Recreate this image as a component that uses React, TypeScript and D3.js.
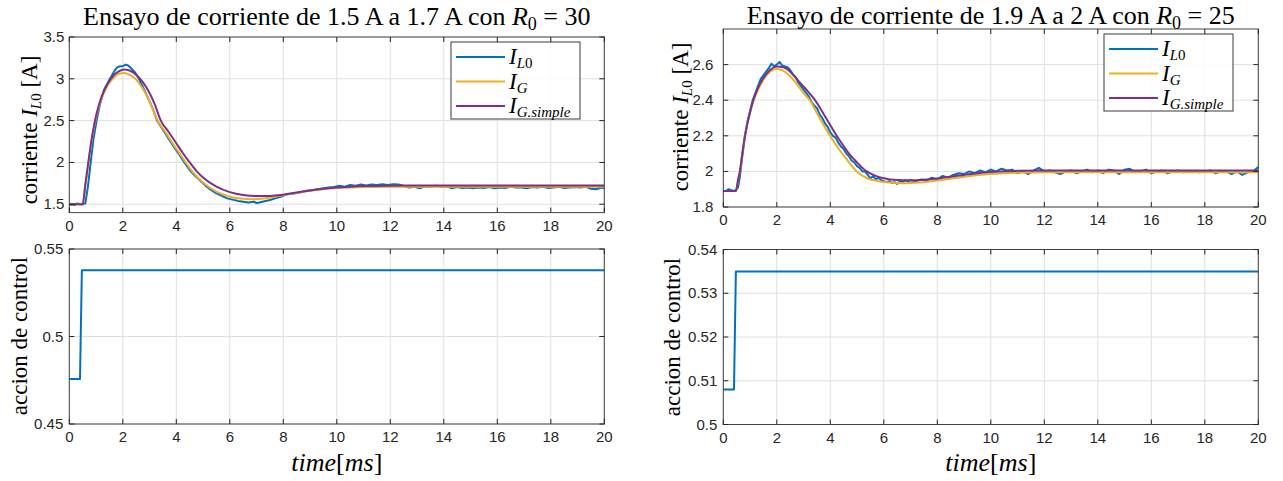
import React from "react";
import * as d3 from "d3";

type Pt = [number, number];

const X_TICKS = [0, 2, 4, 6, 8, 10, 12, 14, 16, 18, 20];
const Y_TICKS_TL = [1.5, 2, 2.5, 3, 3.5];
const Y_TICKS_TR = [1.8, 2, 2.2, 2.4, 2.6];
const Y_TICKS_BL = [0.45, 0.5, 0.55];
const Y_TICKS_BR = [0.5, 0.51, 0.52, 0.53, 0.54];

const TITLE_LEFT = "Ensayo de corriente de 1.5 A a 1.7 A con ";
const TITLE_LEFT_R = "30";
const TITLE_RIGHT = "Ensayo de corriente de 1.9 A a 2 A con ";
const TITLE_RIGHT_R = "25";

// ---- left test: 1.5 A -> 1.7 A ----
const IL0_LEFT: Pt[] = [
  [0, 1.49], [0.1, 1.5], [0.2, 1.49], [0.3, 1.51], [0.4, 1.5], [0.5, 1.5], [0.6, 1.51],
  [0.7, 1.72], [0.8, 2.0], [0.9, 2.27], [1.02, 2.5], [1.15, 2.7], [1.3, 2.87], [1.52, 3.0],
  [1.7, 3.1], [1.8, 3.14], [1.9, 3.15], [2.0, 3.15], [2.1, 3.17], [2.2, 3.16], [2.3, 3.13],
  [2.45, 3.08], [2.6, 3.0], [2.8, 2.87], [3.0, 2.73], [3.15, 2.62], [3.28, 2.5], [3.5, 2.39],
  [3.7, 2.29], [3.9, 2.19], [4.1, 2.1], [4.3, 2.0], [4.5, 1.91], [4.7, 1.84], [4.9, 1.78],
  [5.1, 1.72], [5.3, 1.67], [5.5, 1.63], [5.7, 1.6], [5.9, 1.57], [6.1, 1.555], [6.3, 1.54],
  [6.5, 1.53], [6.7, 1.52], [6.9, 1.53], [7.0, 1.515], [7.1, 1.52], [7.3, 1.535], [7.5, 1.55],
  [7.7, 1.57], [7.9, 1.59], [8.1, 1.615], [8.3, 1.625], [8.5, 1.635], [8.7, 1.65], [8.9, 1.66],
  [9.1, 1.67], [9.3, 1.68], [9.5, 1.69], [9.7, 1.7], [9.9, 1.705], [10.1, 1.72], [10.3, 1.71],
  [10.5, 1.73], [10.7, 1.72], [10.9, 1.735], [11.1, 1.725], [11.3, 1.735], [11.5, 1.73],
  [11.7, 1.74], [11.9, 1.73], [12.1, 1.74], [12.3, 1.735], [12.5, 1.72], [12.7, 1.7],
  [12.9, 1.71], [13.1, 1.69], [13.3, 1.715], [13.5, 1.71], [13.7, 1.72], [13.9, 1.71],
  [14.1, 1.715], [14.3, 1.69], [14.5, 1.705], [14.7, 1.695], [14.9, 1.7], [15.1, 1.69],
  [15.3, 1.7], [15.5, 1.695], [15.7, 1.705], [15.9, 1.69], [16.1, 1.7], [16.3, 1.695],
  [16.5, 1.71], [16.7, 1.7], [16.9, 1.7], [17.1, 1.69], [17.3, 1.705], [17.5, 1.7],
  [17.7, 1.71], [17.9, 1.695], [18.1, 1.7], [18.3, 1.71], [18.5, 1.695], [18.7, 1.7],
  [18.9, 1.705], [19.1, 1.7], [19.3, 1.71], [19.5, 1.685], [19.7, 1.68], [19.9, 1.7], [20, 1.69],
];
const IG_LEFT: Pt[] = [
  [0, 1.5], [0.5, 1.5], [0.6, 1.72], [0.71, 1.98], [0.83, 2.25], [0.96, 2.48], [1.1, 2.66],
  [1.25, 2.8], [1.45, 2.93], [1.65, 3.01], [1.85, 3.06], [2.05, 3.07], [2.25, 3.05],
  [2.5, 2.99], [2.75, 2.88], [3.0, 2.73], [3.3, 2.5], [3.6, 2.36], [3.9, 2.21], [4.1, 2.12],
  [4.35, 2.0], [4.6, 1.89], [5.0, 1.76], [5.5, 1.65], [6.0, 1.59], [6.5, 1.565], [6.8, 1.56],
  [7.2, 1.565], [7.6, 1.585], [8.0, 1.61], [8.5, 1.635], [9.0, 1.66], [9.5, 1.68],
  [10, 1.695], [11, 1.705], [12, 1.71], [14, 1.71], [17, 1.71], [20, 1.71],
];
const IGS_LEFT: Pt[] = [
  [0, 1.5], [0.5, 1.5], [0.6, 1.74], [0.71, 2.0], [0.83, 2.27], [0.96, 2.5], [1.1, 2.68],
  [1.25, 2.82], [1.45, 2.95], [1.65, 3.04], [1.85, 3.09], [2.05, 3.11], [2.25, 3.1],
  [2.5, 3.05], [2.75, 2.96], [3.0, 2.83], [3.2, 2.69], [3.42, 2.5], [3.7, 2.37], [4.0, 2.23],
  [4.25, 2.11], [4.5, 2.0], [4.75, 1.9], [5.0, 1.82], [5.5, 1.71], [6.0, 1.645], [6.5, 1.61],
  [7.0, 1.598], [7.5, 1.6], [8.0, 1.615], [8.5, 1.64], [9.0, 1.665], [9.5, 1.685],
  [10, 1.7], [10.5, 1.71], [11, 1.717], [12, 1.722], [13, 1.724], [16, 1.724], [20, 1.724],
];
const U_LEFT: Pt[] = [[0, 0.4757], [0.4, 0.4757], [0.47, 0.5379], [20, 0.5379]];

// ---- right test: 1.9 A -> 2 A ----
const IL0_RIGHT: Pt[] = [
  [0, 1.89], [0.1, 1.89], [0.2, 1.9], [0.3, 1.895], [0.4, 1.89], [0.5, 1.9], [0.55, 1.91],
  [0.62, 1.97], [0.7, 2.07], [0.8, 2.19], [0.9, 2.28], [1.0, 2.34], [1.1, 2.4], [1.2, 2.44],
  [1.3, 2.48], [1.4, 2.52], [1.5, 2.54], [1.6, 2.56], [1.7, 2.58], [1.8, 2.605], [1.9, 2.59],
  [2.0, 2.6], [2.1, 2.615], [2.2, 2.595], [2.3, 2.59], [2.4, 2.585], [2.5, 2.57], [2.6, 2.545],
  [2.7, 2.53], [2.8, 2.5], [2.9, 2.48], [3.0, 2.46], [3.1, 2.44], [3.2, 2.42], [3.3, 2.39],
  [3.4, 2.37], [3.5, 2.355], [3.6, 2.32], [3.7, 2.3], [3.8, 2.27], [3.9, 2.25], [4.0, 2.22],
  [4.1, 2.2], [4.2, 2.19], [4.3, 2.16], [4.4, 2.14], [4.5, 2.125], [4.6, 2.1], [4.7, 2.085],
  [4.8, 2.06], [4.9, 2.05], [5.0, 2.03], [5.1, 2.02], [5.2, 2.0], [5.3, 2.0], [5.4, 1.98],
  [5.5, 1.96], [5.6, 1.975], [5.7, 1.955], [5.8, 1.965], [5.9, 1.95], [6.0, 1.945], [6.1, 1.94],
  [6.2, 1.945], [6.3, 1.935], [6.4, 1.94], [6.5, 1.93], [6.6, 1.945], [6.7, 1.94], [6.8, 1.95],
  [6.9, 1.945], [7.0, 1.95], [7.2, 1.945], [7.4, 1.955], [7.6, 1.95], [7.8, 1.965], [8.0, 1.955],
  [8.2, 1.975], [8.4, 1.965], [8.6, 1.98], [8.8, 1.99], [9.0, 1.985], [9.2, 2.0], [9.4, 1.99],
  [9.6, 2.005], [9.8, 1.995], [10.0, 2.01], [10.2, 2.0], [10.4, 2.015], [10.6, 2.005],
  [10.8, 2.01], [11.0, 1.99], [11.2, 2.0], [11.4, 1.985], [11.6, 2.005], [11.8, 2.02],
  [12.0, 2.0], [12.2, 2.005], [12.4, 1.995], [12.6, 1.985], [12.8, 2.0], [13.0, 2.005],
  [13.2, 1.99], [13.4, 2.0], [13.6, 2.01], [13.8, 1.995], [14.0, 2.005], [14.2, 1.99],
  [14.4, 2.01], [14.6, 2.005], [14.8, 1.985], [15.0, 2.01], [15.2, 2.015], [15.4, 1.995],
  [15.6, 2.0], [15.8, 2.01], [16.0, 1.99], [16.2, 2.0], [16.4, 2.005], [16.6, 1.99], [16.8, 2.0],
  [17.0, 2.005], [17.2, 1.995], [17.4, 2.0], [17.6, 2.0], [17.8, 1.995], [18.0, 2.0],
  [18.2, 2.005], [18.4, 1.99], [18.6, 2.0], [18.8, 2.0], [19.0, 1.985], [19.2, 2.0],
  [19.4, 1.98], [19.6, 1.995], [19.8, 2.0], [20, 2.025],
];
const IG_RIGHT: Pt[] = [
  [0, 1.89], [0.47, 1.89], [0.55, 1.95], [0.62, 2.0], [0.71, 2.1], [0.81, 2.2], [0.95, 2.3],
  [1.12, 2.39], [1.3, 2.46], [1.5, 2.515], [1.75, 2.56], [2.0, 2.575], [2.25, 2.565],
  [2.5, 2.535], [2.8, 2.48], [3.0, 2.44], [3.23, 2.4], [3.6, 2.3], [3.99, 2.2], [4.3, 2.13],
  [4.6, 2.07], [4.99, 2.0], [5.4, 1.96], [5.8, 1.945], [6.2, 1.937], [6.8, 1.933],
  [7.3, 1.937], [7.8, 1.945], [8.3, 1.955], [8.8, 1.965], [9.3, 1.975], [10, 1.985],
  [11, 1.993], [12, 1.995], [16, 1.995], [20, 1.995],
];
const IGS_RIGHT: Pt[] = [
  [0, 1.89], [0.47, 1.89], [0.55, 1.95], [0.62, 2.0], [0.71, 2.1], [0.81, 2.2], [0.95, 2.3],
  [1.12, 2.4], [1.3, 2.47], [1.5, 2.525], [1.75, 2.57], [2.0, 2.59], [2.25, 2.585],
  [2.5, 2.56], [2.8, 2.51], [3.1, 2.46], [3.43, 2.4], [3.8, 2.31], [4.24, 2.2], [4.7, 2.1],
  [5.0, 2.05], [5.36, 2.0], [5.7, 1.975], [6.0, 1.962], [6.5, 1.952], [7.0, 1.95],
  [7.5, 1.953], [8.0, 1.96], [8.5, 1.97], [9.0, 1.98], [9.5, 1.99], [10, 1.997],
  [11, 2.003], [12, 2.005], [16, 2.005], [20, 2.005],
];
const U_RIGHT: Pt[] = [[0, 0.508], [0.4, 0.508], [0.47, 0.535], [20, 0.535]];

const BLUE = "#0072BD";
const YELLOW = "#EDB120";
const PURPLE = "#7E2F8E";
const AXIS = "#262626";
const GRID = "#dfdfdf";
const SERIF = "'Liberation Serif', 'Times New Roman', serif";
const SANS = "'Liberation Sans', Arial, Helvetica, sans-serif";

type Series = { data: Pt[]; color: string; width: number; curve: d3.CurveFactory };

type PanelProps = {
  id: string;
  left: number;
  top: number;
  width: number;
  height: number;
  yDomain: [number, number];
  yTicks: number[];
  yLabelGap: number;
  series: Series[];
};

function Panel({ id, left, top, width, height, yDomain, yTicks, yLabelGap, series }: PanelProps) {
  const x = d3.scaleLinear().domain([0, 20]).range([left, left + width]);
  const y = d3.scaleLinear().domain(yDomain).range([top + height, top]);
  const tl = 5;
  const fmt = (v: number) => String(+v.toFixed(3));
  return (
    <g>
      <clipPath id={id}>
        <rect x={left} y={top} width={width} height={height} />
      </clipPath>
      <rect x={left} y={top} width={width} height={height} fill="#fff" />
      {X_TICKS.map((t) => (
        <line key={"gx" + t} x1={x(t)} x2={x(t)} y1={top} y2={top + height} stroke={GRID} strokeWidth={1} />
      ))}
      {yTicks.map((t) => (
        <line key={"gy" + t} x1={left} x2={left + width} y1={y(t)} y2={y(t)} stroke={GRID} strokeWidth={1} />
      ))}
      <g clipPath={`url(#${id})`}>
        {series.map((s, i) => {
          const line = d3
            .line<Pt>()
            .x((d) => x(d[0]))
            .y((d) => y(d[1]))
            .curve(s.curve);
          return (
            <path key={i} d={line(s.data) || ""} fill="none" stroke={s.color} strokeWidth={s.width} strokeLinejoin="round" />
          );
        })}
      </g>
      <rect x={left} y={top} width={width} height={height} fill="none" stroke={AXIS} strokeWidth={1} opacity={0.85} />
      {X_TICKS.map((t) => (
        <g key={"tx" + t}>
          <line x1={x(t)} x2={x(t)} y1={top + height} y2={top + height - tl} stroke={AXIS} />
          <line x1={x(t)} x2={x(t)} y1={top} y2={top + tl} stroke={AXIS} />
          <text x={x(t)} y={top + height + 18} textAnchor="middle" fontFamily={SANS} fontSize={15} fill={AXIS}>
            {t}
          </text>
        </g>
      ))}
      {yTicks.map((t) => (
        <g key={"ty" + t}>
          <line x1={left} x2={left + tl} y1={y(t)} y2={y(t)} stroke={AXIS} />
          <line x1={left + width} x2={left + width - tl} y1={y(t)} y2={y(t)} stroke={AXIS} />
          <text x={left - yLabelGap} y={y(t) + 5} textAnchor="end" fontFamily={SANS} fontSize={15} fill={AXIS}>
            {fmt(t)}
          </text>
        </g>
      ))}
    </g>
  );
}

function Legend({ x, y }: { x: number; y: number }) {
  const rows = [
    { color: BLUE, main: "I", sub: "L0" },
    { color: YELLOW, main: "I", sub: "G" },
    { color: PURPLE, main: "I", sub: "G.simple" },
  ];
  return (
    <g>
      <rect x={x} y={y} width={129} height={77} fill="#fff" stroke={AXIS} strokeWidth={1} opacity={0.9} />
      {rows.map((r, i) => {
        const ry = y + 15 + i * 24.5;
        return (
          <g key={i}>
            <line x1={x + 5} x2={x + 54} y1={ry} y2={ry} stroke={r.color} strokeWidth={2.2} />
            <text x={x + 58} y={ry + 7} fontFamily={SERIF} fontSize={23} fontStyle="italic" fill="#000">
              {r.main}
              <tspan fontSize={15} dy={4}>
                {r.sub === "L0" ? (
                  <>
                    L<tspan fontStyle="normal">0</tspan>
                  </>
                ) : (
                  r.sub
                )}
              </tspan>
            </text>
          </g>
        );
      })}
    </g>
  );
}

function Title({ cx, y, text, val }: { cx: number; y: number; text: string; val: string }) {
  return (
    <text x={cx} y={y} textAnchor="middle" fontFamily={SERIF} fontSize={26} fill="#000">
      {text}
      <tspan fontStyle="italic">R</tspan>
      <tspan fontSize={18} dy={5}>
        0
      </tspan>
      <tspan dy={-5}>{" = " + val}</tspan>
    </text>
  );
}

function YLabelCurrent({ cx, cy }: { cx: number; cy: number }) {
  return (
    <text x={cx} y={cy} transform={`rotate(-90 ${cx} ${cy})`} textAnchor="middle" fontFamily={SERIF} fontSize={23} fill="#000">
      {"corriente "}
      <tspan fontStyle="italic">I</tspan>
      <tspan fontSize={15} dy={4} fontStyle="italic">
        L
      </tspan>
      <tspan fontSize={15}>0</tspan>
      <tspan dy={-4}>{" [A]"}</tspan>
    </text>
  );
}

function YLabelControl({ cx, cy }: { cx: number; cy: number }) {
  return (
    <text x={cx} y={cy} transform={`rotate(-90 ${cx} ${cy})`} textAnchor="middle" fontFamily={SERIF} fontSize={23} fill="#000">
      accion de control
    </text>
  );
}

function XLabel({ cx, y }: { cx: number; y: number }) {
  return (
    <text x={cx} y={y} textAnchor="middle" fontFamily={SERIF} fontSize={26} fill="#000">
      <tspan fontStyle="italic">time</tspan>[<tspan fontStyle="italic">ms</tspan>]
    </text>
  );
}

export default function App() {
  const smooth = d3.curveMonotoneX;
  const lin = d3.curveLinear;
  const W = 535;
  const LX = 69.3;
  const RX = 723.3;
  return (
    <svg
      width={1283}
      height={481}
      viewBox="0 0 1283 481"
      style={{ position: "absolute", left: 0, top: 0, background: "#fff" }}
      xmlns="http://www.w3.org/2000/svg"
    >
      <rect x={0} y={0} width={1283} height={481} fill="#fff" />
      {/* left column */}
      <Title cx={LX + W / 2} y={25} text={TITLE_LEFT} val={TITLE_LEFT_R} />
      <Panel
        id="c1"
        left={LX}
        top={37}
        width={W}
        height={175.6}
        yDomain={[1.4, 3.5]}
        yTicks={Y_TICKS_TL}
        yLabelGap={5}
        series={[
          { data: IL0_LEFT, color: BLUE, width: 2, curve: lin },
          { data: IG_LEFT, color: YELLOW, width: 2, curve: smooth },
          { data: IGS_LEFT, color: PURPLE, width: 2, curve: smooth },
        ]}
      />
      <Legend x={451} y={42} />
      <YLabelCurrent cx={37} cy={130} />
      <Panel
        id="c2"
        left={LX}
        top={249}
        width={W}
        height={175}
        yDomain={[0.45, 0.55]}
        yTicks={Y_TICKS_BL}
        yLabelGap={6}
        series={[{ data: U_LEFT, color: BLUE, width: 2, curve: lin }]}
      />
      <YLabelControl cx={27} cy={336} />
      <XLabel cx={LX + W / 2} y={471} />

      {/* right column */}
      <Title cx={RX + W / 2} y={24} text={TITLE_RIGHT} val={TITLE_RIGHT_R} />
      <Panel
        id="c3"
        left={RX}
        top={29}
        width={W}
        height={178}
        yDomain={[1.8, 2.8]}
        yTicks={Y_TICKS_TR}
        yLabelGap={10}
        series={[
          { data: IL0_RIGHT, color: BLUE, width: 2, curve: lin },
          { data: IG_RIGHT, color: YELLOW, width: 2, curve: smooth },
          { data: IGS_RIGHT, color: PURPLE, width: 2, curve: smooth },
        ]}
      />
      <Legend x={1104} y={34} />
      <YLabelCurrent cx={688} cy={117} />
      <Panel
        id="c4"
        left={RX}
        top={249.5}
        width={W}
        height={175}
        yDomain={[0.5, 0.54]}
        yTicks={Y_TICKS_BR}
        yLabelGap={6}
        series={[{ data: U_RIGHT, color: BLUE, width: 2, curve: lin }]}
      />
      <YLabelControl cx={680} cy={337} />
      <XLabel cx={RX + W / 2} y={471} />
    </svg>
  );
}
